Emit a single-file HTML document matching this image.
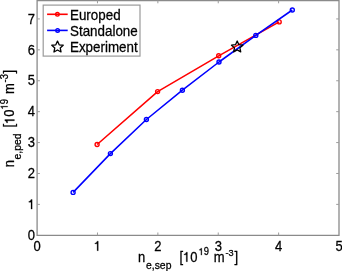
<!DOCTYPE html>
<html><head><meta charset="utf-8">
<style>
html,body{margin:0;padding:0;background:#fff;width:342px;height:271px;overflow:hidden}
svg{display:block;will-change:transform}
text{font-family:"Liberation Sans",sans-serif;fill:#000;stroke:#000;stroke-width:0.25px}
path.g{fill:#000;stroke:#000}
</style></head>
<body>
<svg width="342" height="271" viewBox="0 0 342 271">
<rect x="0" y="0" width="342" height="271" fill="#fff"/>
<path d="M37.1 0.5 V235.3 H339.0 V0.5 Z" fill="none" stroke="#8a8a8a" stroke-width="1.3"/>
<path d="M37.1 204.39h2.8M37.1 173.48h2.8M37.1 142.57h2.8M37.1 111.66h2.8M37.1 80.75h2.8M37.1 49.84h2.8M37.1 18.93h2.8M339.0 204.39h-2.8M339.0 173.48h-2.8M339.0 142.57h-2.8M339.0 111.66h-2.8M339.0 80.75h-2.8M339.0 49.84h-2.8M339.0 18.93h-2.8M97.48 235.3v-2.8M157.86 235.3v-2.8M218.24 235.3v-2.8M278.62 235.3v-2.8M97.48 0.5v2.8M157.86 0.5v2.8M218.24 0.5v2.8M278.62 0.5v2.8" stroke="#9c9c9c" stroke-width="1" fill="none"/>
<g fill="#000" stroke="#000">
<g transform="translate(35,240.0) scale(1,1.07)"><text x="-7.23" y="0.00" font-size="13">0</text></g>
<g transform="translate(35,209.09) scale(1,1.07)"><path transform="translate(-7.23,0.00) scale(0.00635,-0.00635)" d="M690,0 L510,0 L510,1010 L165,1010 L165,1135 C350,1150 460,1250 505,1409 L690,1409 Z" stroke-width="39.4"/></g>
<g transform="translate(35,178.18) scale(1,1.07)"><text x="-7.23" y="0.00" font-size="13">2</text></g>
<g transform="translate(35,147.27) scale(1,1.07)"><text x="-7.23" y="0.00" font-size="13">3</text></g>
<g transform="translate(35,116.36) scale(1,1.07)"><text x="-7.23" y="0.00" font-size="13">4</text></g>
<g transform="translate(35,85.45) scale(1,1.07)"><text x="-7.23" y="0.00" font-size="13">5</text></g>
<g transform="translate(35,54.54) scale(1,1.07)"><text x="-7.23" y="0.00" font-size="13">6</text></g>
<g transform="translate(35,23.63) scale(1,1.07)"><text x="-7.23" y="0.00" font-size="13">7</text></g>
<g transform="translate(37.1,250.7) scale(1,1.07)"><text x="-3.61" y="0.00" font-size="13">0</text></g>
<g transform="translate(97.48,250.7) scale(1,1.07)"><path transform="translate(-3.61,0.00) scale(0.00635,-0.00635)" d="M690,0 L510,0 L510,1010 L165,1010 L165,1135 C350,1150 460,1250 505,1409 L690,1409 Z" stroke-width="39.4"/></g>
<g transform="translate(157.86,250.7) scale(1,1.07)"><text x="-3.61" y="0.00" font-size="13">2</text></g>
<g transform="translate(218.24,250.7) scale(1,1.07)"><text x="-3.61" y="0.00" font-size="13">3</text></g>
<g transform="translate(278.62,250.7) scale(1,1.07)"><text x="-3.61" y="0.00" font-size="13">4</text></g>
<g transform="translate(339.0,250.7) scale(1,1.07)"><text x="-3.61" y="0.00" font-size="13">5</text></g>
<g transform="translate(137.9,261.7) scale(1,1.07)"><text x="0.00" y="0.00" font-size="13">n</text></g>
<g transform="translate(146.0,268.7) scale(1,1.07)"><text x="0.00" y="0.00" font-size="10.4">e,sep</text></g>
<g transform="translate(179.4,261.7) scale(1,1.07)"><text x="0.00" y="0.00" font-size="13">[</text><path transform="translate(3.61,0.00) scale(0.00635,-0.00635)" d="M690,0 L510,0 L510,1010 L165,1010 L165,1135 C350,1150 460,1250 505,1409 L690,1409 Z" stroke-width="39.4"/><text x="10.84" y="0.00" font-size="13">0</text></g>
<g transform="translate(198.6,255.1) scale(1,1.07)"><path transform="translate(0.00,0.00) scale(0.00459,-0.00459)" d="M690,0 L510,0 L510,1010 L165,1010 L165,1135 C350,1150 460,1250 505,1409 L690,1409 Z" stroke-width="54.5"/><text x="5.23" y="0.00" font-size="9.4">9</text></g>
<g transform="translate(213.7,261.7) scale(1,1.07)"><text x="0.00" y="0.00" font-size="13">m</text></g>
<g transform="translate(225.4,255.89999999999998) scale(1,1.07)"><text x="0.00" y="0.00" font-size="9.2">-3</text></g>
<g transform="translate(234.5,261.7) scale(1,1.07)"><text x="0.00" y="0.00" font-size="13">]</text></g>
<g transform="translate(14.4,167.2) rotate(-90) scale(1,1.07)"><text x="0.00" y="0.00" font-size="13">n</text><text x="7.80" y="6.30" font-size="10.4">e,ped</text><text x="39.60" y="0.00" font-size="13">[</text><path transform="translate(43.21,0.00) scale(0.00635,-0.00635)" d="M690,0 L510,0 L510,1010 L165,1010 L165,1135 C350,1150 460,1250 505,1409 L690,1409 Z" stroke-width="39.4"/><text x="50.44" y="0.00" font-size="13">0</text><path transform="translate(57.80,-6.30) scale(0.00459,-0.00459)" d="M690,0 L510,0 L510,1010 L165,1010 L165,1135 C350,1150 460,1250 505,1409 L690,1409 Z" stroke-width="54.5"/><text x="63.03" y="-6.30" font-size="9.4">9</text><text x="73.30" y="0.00" font-size="13">m</text><text x="84.80" y="-6.20" font-size="9.4">-3</text><text x="93.60" y="0.00" font-size="13">]</text></g>
</g>
<polyline fill="none" stroke="#ff0000" stroke-width="1.55" stroke-linejoin="round" points="97.1,144.5 157.6,91.6 218.7,55.8 279.2,21.9"/>
<g fill="none" stroke="#ff0000" stroke-width="1.4"><circle cx="97.1" cy="144.5" r="2.0"/><circle cx="157.6" cy="91.6" r="2.0"/><circle cx="218.7" cy="55.8" r="2.0"/><circle cx="279.2" cy="21.9" r="2.0"/></g>
<polyline fill="none" stroke="#0000ff" stroke-width="1.55" stroke-linejoin="round" points="73.1,192.4 110.4,153.6 146.4,119.5 182.4,90.2 219.0,62.0 255.8,35.4 292.3,10.0"/>
<g fill="none" stroke="#0000ff" stroke-width="1.4"><circle cx="73.1" cy="192.4" r="2.0"/><circle cx="110.4" cy="153.6" r="2.0"/><circle cx="146.4" cy="119.5" r="2.0"/><circle cx="182.4" cy="90.2" r="2.0"/><circle cx="219.0" cy="62.0" r="2.0"/><circle cx="255.8" cy="35.4" r="2.0"/><circle cx="292.3" cy="10.0" r="2.0"/></g>
<path transform="translate(237.2,47.0)" d="M0.00,-6.00 L1.68,-2.31 L5.71,-1.85 L2.71,0.88 L3.53,4.85 L0.00,2.85 L-3.53,4.85 L-2.71,0.88 L-5.71,-1.85 L-1.68,-2.31 Z" fill="none" stroke="#000" stroke-width="1.3" stroke-linejoin="round"/>
<rect x="43.2" y="5.1" width="96.8" height="51.0" fill="#fff" stroke="#9a9a9a" stroke-width="1.2"/>
<path d="M47.1 14.3H67.7" stroke="#ff0000" stroke-width="1.6"/><circle cx="57.4" cy="14.3" r="1.8" fill="none" stroke="#ff0000" stroke-width="1.4"/>
<path d="M47.1 30.4H67.7" stroke="#0000ff" stroke-width="1.6"/><circle cx="57.6" cy="30.4" r="1.8" fill="none" stroke="#0000ff" stroke-width="1.4"/>
<path transform="translate(57.5,47.1)" d="M0.00,-6.00 L1.68,-2.31 L5.71,-1.85 L2.71,0.88 L3.53,4.85 L0.00,2.85 L-3.53,4.85 L-2.71,0.88 L-5.71,-1.85 L-1.68,-2.31 Z" fill="none" stroke="#000" stroke-width="1.3" stroke-linejoin="round"/>
<g fill="#000" stroke="#000">
<g transform="translate(70,19.6) scale(1,1.07)"><text x="0.00" y="0.00" font-size="13.4">Europed</text></g>
<g transform="translate(70,35.8) scale(1,1.07)"><text x="0.00" y="0.00" font-size="13.4">Standalone</text></g>
<g transform="translate(70,52.0) scale(1,1.07)"><text x="0.00" y="0.00" font-size="13.4">Experiment</text></g>
</g>
</svg>
</body></html>
